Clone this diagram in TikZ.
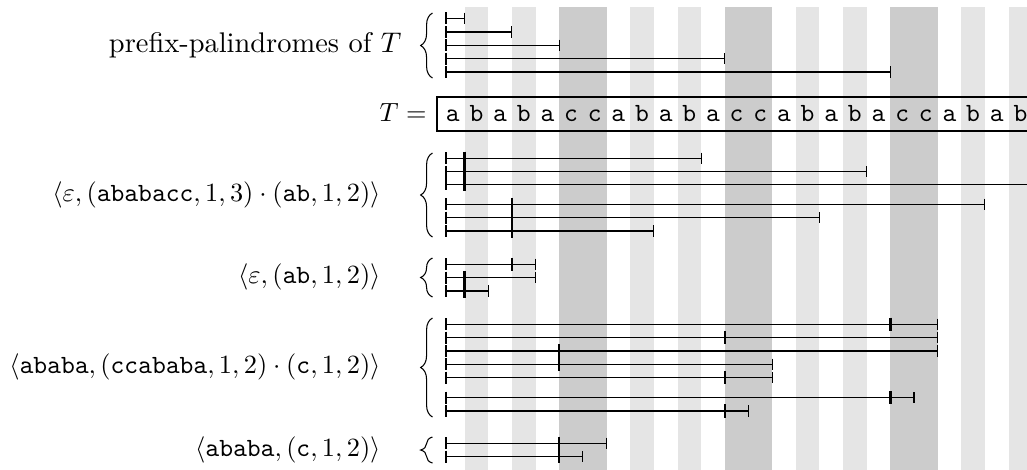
\documentclass[tikz,border=0pt]{standalone}
\usetikzlibrary{decorations.pathreplacing}
\begin{document}
\begin{tikzpicture}[x=0.38pt,y=-0.38pt,
  ivl/.style={line width=0.4pt},
  endtick/.style={line width=0.4pt},
  marktick/.style={line width=0.9pt},
  grpbrace/.style={decorate,decoration={brace,amplitude=4.5pt},line width=0.4pt},
  lab/.style={anchor=east,inner sep=0pt},
  lightstripe/.style={fill=black!10},
  darkstripe/.style={fill=black!20}]
\useasboundingbox (0,0) rectangle (1027,469);
\clip (0,0) rectangle (1027,469);
% stripes
\foreach \k in {2,4,9,11,16,18,23,25}
  \fill[lightstripe] ({441+(\k-1)*23.65},7) rectangle ({441+\k*23.65},480);
\foreach \k in {6,13,20}
  \fill[darkstripe] ({441+(\k-1)*23.65},7) rectangle ({441+(\k+1)*23.65},480);
% text T
\draw[line width=0.4pt] (437,97) rectangle (1045,131);
\node[anchor=base east,inner sep=0pt] (Tlab) at (427,121.5) {$T=$};
\foreach \ch [count=\i] in {a,b,a,b,a,c,c,a,b,a,b,a,c,c,a,b,a,b,a,c,c,a,b,a,b}
  \node[anchor=base,inner sep=0pt] (t\i) at ({441+(\i-0.5)*23.65},121.5) {\texttt{\ch}};
% intervals
\foreach \y/\e in {18.3/1,32/3,45.3/5,58.7/12,72/19,
    158.3/11,171.7/18,184.3/26,204.3/23,217.7/16,231/9,
    264.3/4,277.7/4,291/2,
    324.3/21,337.7/21,351/21,364.3/14,377.7/14,397.7/20,411/13,
    443.3/7,456.7/6}{
  \draw[ivl] (446,\y) -- ({441+\e*23.65},\y);
  \draw[endtick] (446,\y-6) -- (446,\y+6);
  \draw[endtick] ({441+\e*23.65},\y-5.7) -- ({441+\e*23.65},\y+5.7);
}
\foreach \y/\m in {158.3/1,171.7/1,184.3/1,204.3/3,217.7/3,231/3,
    264.3/3,277.7/1,291/1,
    324.3/19,337.7/12,351/5,364.3/5,377.7/12,397.7/19,411/12,
    443.3/5,456.7/5}
  \draw[marktick] ({441+\m*23.65},\y-6.6) -- ({441+\m*23.65},\y+6.6);
% braces
\draw[grpbrace] (432.5,78) -- (432.5,13);
\draw[grpbrace] (432.5,237) -- (432.5,153);
\draw[grpbrace] (432.5,297) -- (432.5,258);
\draw[grpbrace] (432.5,417) -- (432.5,318);
\draw[grpbrace] (432.5,463) -- (432.5,437);
% labels
\node[lab] (L1) at (402,45) {\scalebox{1.08}{prefix-palindromes of $T$}};
\node[lab] (L2) at (381,195) {$\langle\varepsilon,(\mathtt{ababacc},1,3)\cdot(\mathtt{ab},1,2)\rangle$};
\node[lab] (L3) at (381,277) {$\langle\varepsilon,(\mathtt{ab},1,2)\rangle$};
\node[lab] (L4) at (381,367) {$\langle\mathtt{ababa},(\mathtt{ccababa},1,2)\cdot(\mathtt{c},1,2)\rangle$};
\node[lab] (L5) at (381,450) {$\langle\mathtt{ababa},(\mathtt{c},1,2)\rangle$};
\end{tikzpicture}
\end{document}
